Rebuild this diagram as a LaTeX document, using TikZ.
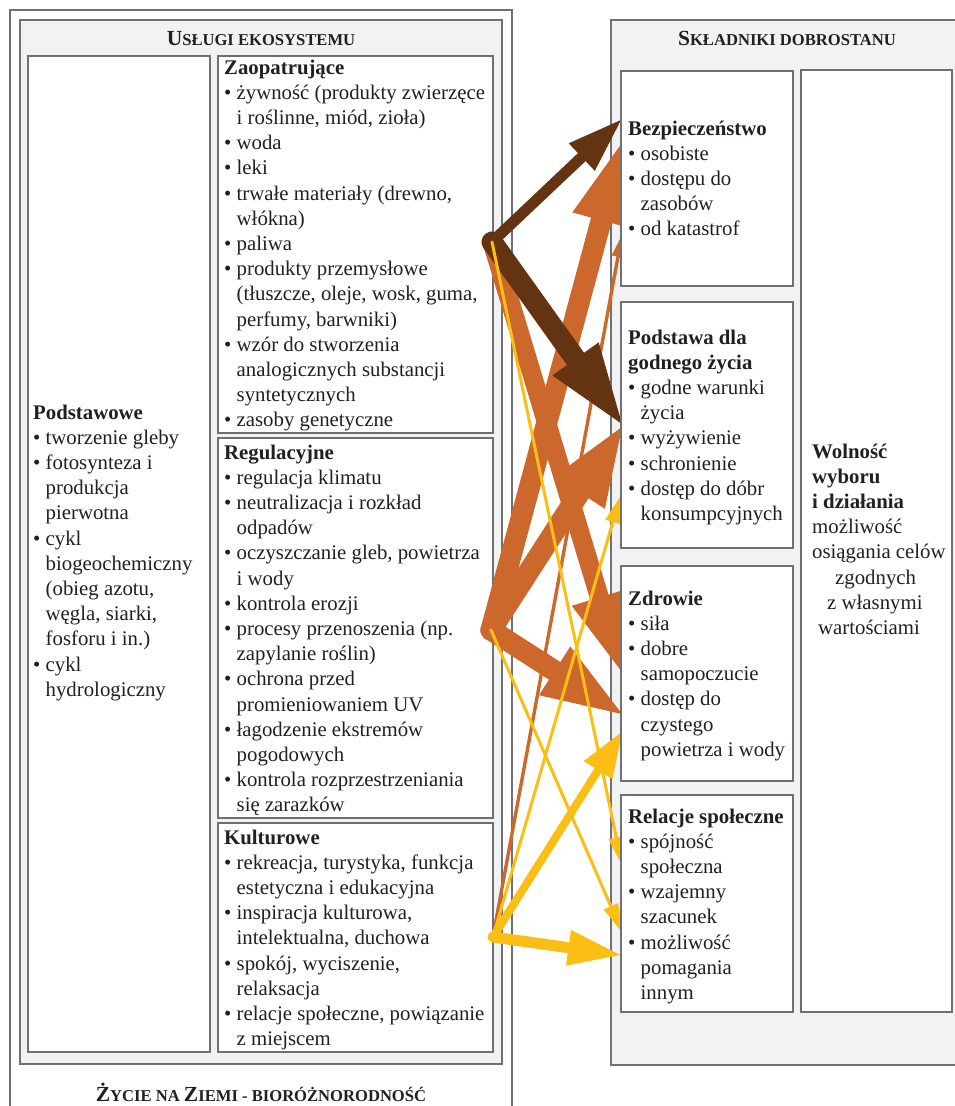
\documentclass[tikz,border=0pt]{standalone}
\usepackage{fontspec}
\setmainfont{Liberation Serif}
\usetikzlibrary{arrows.meta}

\definecolor{brownA}{RGB}{100,52,18}
\definecolor{orangeA}{RGB}{204,104,44}
\definecolor{yellowA}{RGB}{251,190,20}
\definecolor{panel}{RGB}{241,242,244}
\definecolor{frame}{RGB}{112,112,114}
\definecolor{ink}{RGB}{35,31,32}

% body text, bullets and continuation indent
\newcommand\bodyfont{\fontsize{20.8}{25.2}\selectfont}
\newcommand\bu{\makebox[12.5pt][l]{•}}
\newcommand\ct{\hspace*{12.5pt}}
% hand-made small capitals for the panel titles
\newcommand\ttlbig[1]{{\fontsize{21.5}{22}\selectfont #1}}
\newcommand\ttlsmall[1]{{\fontsize{16.6}{17}\selectfont #1}}
% a block of text whose first baseline sits on the node's base
\newcommand\txtblock[1]{\parbox[t]{300pt}{\raggedright\bodyfont #1}}

\begin{document}
\begin{tikzpicture}[x=1pt,y=-1pt,
  frm/.style={draw=frame,line width=1.6pt},
  wbox/.style={frm,fill=white,anchor=north west,inner sep=0pt,outer sep=0pt},
  gbox/.style={frm,fill=panel,anchor=north west,inner sep=0pt,outer sep=0pt},
  txt/.style={anchor=base west,inner sep=0pt,text=ink},
  ttl/.style={anchor=base,inner sep=0pt,text=ink,font=\bfseries},
  link/.style={line cap=round},
]
\useasboundingbox (0,0) rectangle (955,1106);
\clip (0,0) rectangle (955,1106);

% ---------- left side: life on Earth / ecosystem services ----------
\node[wbox,minimum width=502pt,minimum height=1130pt] (bio) at (10,10) {};
\node[gbox,minimum width=482pt,minimum height=1044pt] (uslugi) at (20,20) {};
\node[ttl] (uslugiT) at (261,45) {\ttlbig{U}\ttlsmall{SŁUGI EKOSYSTEMU}};
\node[ttl] (bioT) at (261,1101) {\ttlbig{Ż}\ttlsmall{YCIE NA }\ttlbig{Z}\ttlsmall{IEMI - BIORÓŻNORODNOŚĆ}};

\node[wbox,minimum width=182pt,minimum height=996pt] (podst) at (28,56) {};
\node[wbox,minimum width=275pt,minimum height=377pt] (zaop) at (218,56) {};
\node[wbox,minimum width=275pt,minimum height=380pt] (regul) at (218,438) {};
\node[wbox,minimum width=275pt,minimum height=229pt] (kult) at (218,823) {};

\node[txt] (podstT) at (33,419) {\txtblock{\textbf{Podstawowe}\\
\bu tworzenie gleby\\
\bu fotosynteza i\\
\ct produkcja\\
\ct pierwotna\\
\bu cykl\\
\ct biogeochemiczny\\
\ct (obieg azotu,\\
\ct węgla, siarki,\\
\ct fosforu i in.)\\
\bu cykl\\
\ct hydrologiczny}};

\node[txt] (zaopT) at (224,74) {\txtblock{\textbf{Zaopatrujące}\\
\bu żywność (produkty zwierzęce\\
\ct i roślinne, miód, zioła)\\
\bu woda\\
\bu leki\\
\bu trwałe materiały (drewno,\\
\ct włókna)\\
\bu paliwa\\
\bu produkty przemysłowe\\
\ct (tłuszcze, oleje, wosk, guma,\\
\ct perfumy, barwniki)\\
\bu wzór do stworzenia\\
\ct analogicznych substancji\\
\ct syntetycznych\\
\bu zasoby genetyczne}};

\node[txt] (regulT) at (224,459) {\txtblock{\textbf{Regulacyjne}\\
\bu regulacja klimatu\\
\bu neutralizacja i rozkład\\
\ct odpadów\\
\bu oczyszczanie gleb, powietrza\\
\ct i wody\\
\bu kontrola erozji\\
\bu procesy przenoszenia (np.\\
\ct zapylanie roślin)\\
\bu ochrona przed\\
\ct promieniowaniem UV\\
\bu łagodzenie ekstremów\\
\ct pogodowych\\
\bu kontrola rozprzestrzeniania\\
\ct się zarazków}};

\node[txt] (kultT) at (224,844) {\txtblock{\textbf{Kulturowe}\\
\bu rekreacja, turystyka, funkcja\\
\ct estetyczna i edukacyjna\\
\bu inspiracja kulturowa,\\
\ct intelektualna, duchowa\\
\bu spokój, wyciszenie,\\
\ct relaksacja\\
\bu relacje społeczne, powiązanie\\
\ct z miejscem}};

% ---------- right side: constituents of well-being ----------
\node[gbox,minimum width=360pt,minimum height=1045pt] (dobro) at (611,20) {};
\node[ttl] (dobroT) at (787,45) {\ttlbig{S}\ttlsmall{KŁADNIKI DOBROSTANU}};

% ---------- links between services and well-being ----------
\coordinate (srcZ) at (492,242);
\coordinate (srcR) at (491,630);
\coordinate (srcK) at (493,937);

\coordinate (tipZB) at (621,120);
\coordinate (tipZP) at (622,424);
\coordinate (tipZZ) at (622,672);
\coordinate (tipZS) at (622,865);
\coordinate (tipRB) at (622,143);
\coordinate (tipRP) at (622,427);
\coordinate (tipRZ) at (622,714);
\coordinate (tipRS) at (622,932);
\coordinate (tipKB) at (622,235);
\coordinate (tipKP) at (620,497);
\coordinate (tipKZ) at (622,732);
\coordinate (tipKS) at (620,955);

% medium potential for mediation
\draw[link,orangeA,line width=19pt,-{Triangle[length=78pt,width=58pt,line width=0pt]}] (srcZ) -- (tipZZ);
\draw[link,orangeA,line width=21pt,-{Triangle[length=80pt,width=60pt,line width=0pt]}] (srcR) -- (tipRB);
\draw[link,orangeA,line width=21pt,-{Triangle[length=78pt,width=60pt,line width=0pt]}] (srcR) -- (tipRP);
\draw[link,orangeA,line width=21pt,-{Triangle[length=80pt,width=58pt,line width=0pt]}] (srcR) -- (tipRZ);
\draw[link,orangeA,line width=3.4pt,-{Triangle[length=22pt,width=13pt,line width=0pt]}] (srcK) -- (tipKB);
% low potential for mediation
\draw[link,brownA,line width=11pt,-{Triangle[length=54pt,width=38pt,line width=0pt]}] (srcZ) -- (tipZB);
\draw[link,brownA,line width=21pt,-{Triangle[length=80pt,width=57pt,line width=0pt]}] (srcZ) -- (tipZP);
% high potential for mediation
\draw[link,yellowA,line width=3pt,-{Triangle[length=28pt,width=16pt,line width=0pt]}] (srcZ) -- (tipZS);
\draw[link,yellowA,line width=3pt,-{Triangle[length=28pt,width=16pt,line width=0pt]}] (srcR) -- (tipRS);
\draw[link,yellowA,line width=3pt,-{Triangle[length=26pt,width=16pt,line width=0pt]}] (srcK) -- (tipKP);
\draw[link,yellowA,line width=8pt,-{Triangle[length=45pt,width=34pt,line width=0pt]}] (srcK) -- (tipKZ);
\draw[link,yellowA,line width=11pt,-{Triangle[length=52pt,width=36pt,line width=0pt]}] (srcK) -- (tipKS);

% ---------- well-being boxes (on top of the arrow tips) ----------
\node[wbox,minimum width=172pt,minimum height=215pt] (bezp) at (621,71) {};
\node[wbox,minimum width=172pt,minimum height=246pt] (podstawa) at (621,302) {};
\node[wbox,minimum width=172pt,minimum height=215pt] (zdrowie) at (621,566) {};
\node[wbox,minimum width=172pt,minimum height=217pt] (relacje) at (621,795) {};
\node[wbox,minimum width=151pt,minimum height=942pt] (wolnosc) at (801,70) {};

\node[txt] (bezpT) at (628,135) {\txtblock{\textbf{Bezpieczeństwo}\\
\bu osobiste\\
\bu dostępu do\\
\ct zasobów\\
\bu od katastrof}};

\node[txt] (podstawaT) at (628,344) {\txtblock{\textbf{Podstawa dla}\\
\textbf{godnego życia}\\
\bu godne warunki\\
\ct życia\\
\bu wyżywienie\\
\bu schronienie\\
\bu dostęp do dóbr\\
\ct konsumpcyjnych}};

\node[txt] (zdrowieT) at (628,605) {\txtblock{\textbf{Zdrowie}\\
\bu siła\\
\bu dobre\\
\ct samopoczucie\\
\bu dostęp do\\
\ct czystego\\
\ct powietrza i wody}};

\node[txt] (relacjeT) at (628,823) {\txtblock{\textbf{Relacje społeczne}\\
\bu spójność\\
\ct społeczna\\
\bu wzajemny\\
\ct szacunek\\
\bu możliwość\\
\ct pomagania\\
\ct innym}};

\node[txt] (wolnoscT) at (812,458) {\txtblock{\textbf{Wolność}\\
\textbf{wyboru}\\
\textbf{i działania}\\
możliwość\\
osiągania celów\\
\hspace*{23pt}zgodnych\\
\hspace*{15pt}z własnymi\\
\hspace*{6pt}wartościami}};
\end{tikzpicture}
\end{document}
